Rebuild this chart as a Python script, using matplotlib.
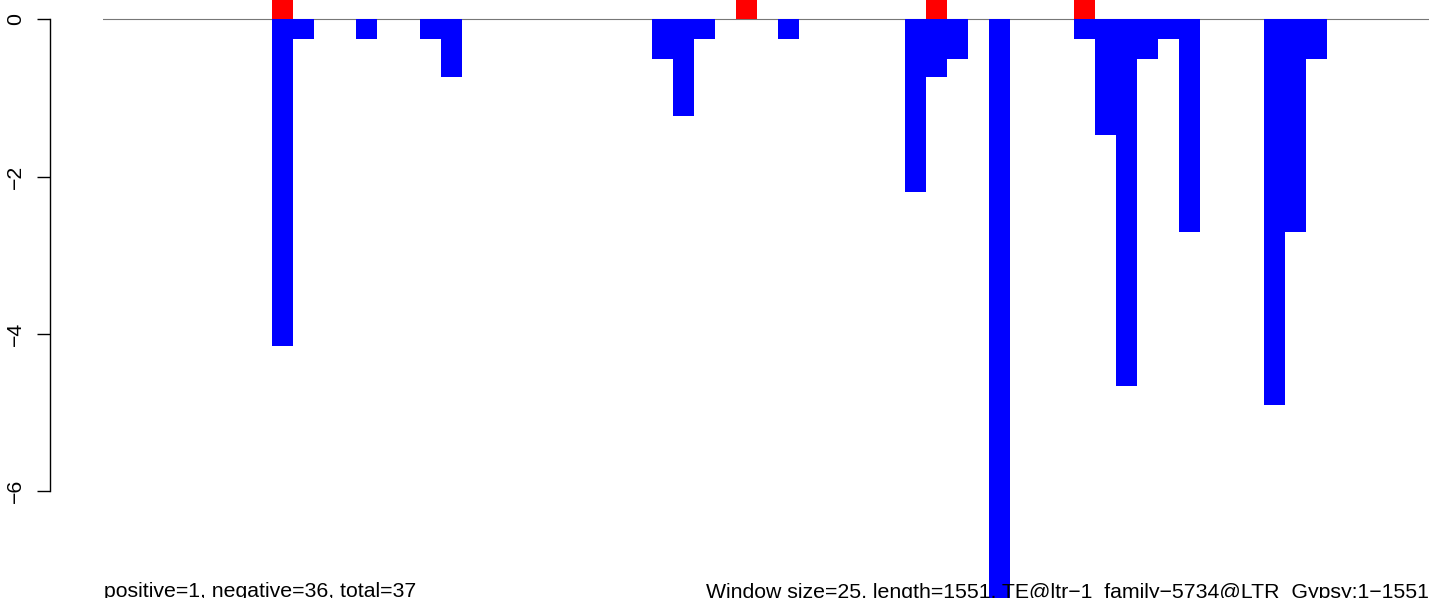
import numpy as np
import matplotlib
matplotlib.use("Agg")
import matplotlib.pyplot as plt

plt.rcParams["font.family"] = ["Liberation Sans", "DejaVu Sans"]

# window scores, 63 windows of 25 bp
window_idx = np.arange(63)

positive = [0, 0, 0, 0, 0, 0, 0, 0, 0.25, 0,
            0, 0, 0, 0, 0, 0, 0, 0, 0, 0,
            0, 0, 0, 0, 0, 0, 0, 0, 0, 0,
            0.25, 0, 0, 0, 0, 0, 0, 0, 0, 0.25,
            0, 0, 0, 0, 0, 0, 0.25, 0, 0, 0,
            0, 0, 0, 0, 0, 0, 0, 0, 0, 0,
            0, 0, 0]

negative = [0, 0, 0, 0, 0, 0, 0, 0, -4.16, -0.25,
            0, 0, -0.25, 0, 0, -0.25, -0.73, 0, 0, 0,
            0, 0, 0, 0, 0, 0, -0.5, -1.23, -0.25, 0,
            0, 0, -0.25, 0, 0, 0, 0, 0, -2.2, -0.73,
            -0.5, 0, -7.6, 0, 0, 0, -0.25, -1.47, -4.66, -0.5,
            -0.25, -2.7, 0, 0, 0, -4.9, -2.7, -0.5, 0, 0,
            0, 0, 0]

y_ticks = [0, -2, -4, -6]
left_note = "positive=1, negative=36, total=37"
right_note = "Window size=25, length=1551, TE@ltr\u22121_family\u22125734@LTR_Gypsy:1\u22121551"

W, H = 1429, 598
fig = plt.figure(figsize=(W / 100, H / 100), dpi=100)

# plot region: bars start at x=103px, each bar ~21.1px wide
bar_px = 21.1
ax = fig.add_axes([103 / W, 0, len(window_idx) * bar_px / W, 1])

ax.axhline(0, color="#777777", linewidth=0.8, zorder=1)
ax.bar(window_idx, positive, width=1.0, align="edge", color="#FF0000", linewidth=0, zorder=2)
ax.bar(window_idx, negative, width=1.0, align="edge", color="#0000FF", linewidth=0, zorder=2)

px_per_unit = 78.65
y_zero = 19.3
ax.set_xlim(0, len(window_idx))
ax.set_ylim(-(H - y_zero) / px_per_unit, y_zero / px_per_unit)

# R-style axis
for side in ["top", "right", "bottom"]:
    ax.spines[side].set_visible(False)
ax.spines["left"].set_position(("outward", 53 * 0.72))
ax.spines["left"].set_bounds(-6, 0)
ax.spines["left"].set_linewidth(1.0)
ax.set_xticks([])
ax.set_yticks(y_ticks)
ax.set_yticklabels([str(t).replace("-", "\u2212") for t in y_ticks])
ax.tick_params(axis="y", length=13 * 0.72, width=1.0, pad=8.5, labelsize=15.3, labelrotation=90)
for lab in ax.get_yticklabels():
    lab.set_va("center")

fig.text(104 / W, 0.001, left_note, ha="left", va="baseline", fontsize=15.3)
fig.text(1429 / W, 0.001, right_note, ha="right", va="baseline", fontsize=15.3)

fig.savefig("out.png", dpi=100)
